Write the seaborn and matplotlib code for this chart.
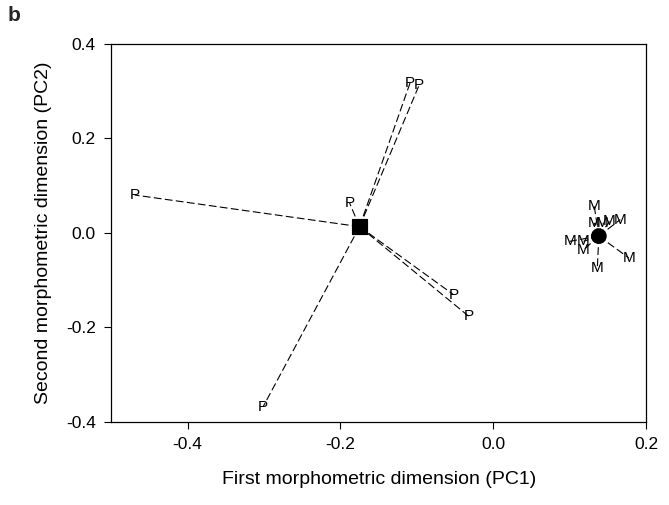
import matplotlib
matplotlib.use("Agg")
import matplotlib.pyplot as plt
import seaborn as sns
import pandas as pd

# P group (label points)
p_x = [-0.469, -0.301, -0.188, -0.109, -0.097, -0.052, -0.032]
p_y = [0.080, -0.368, 0.063, 0.317, 0.313, -0.131, -0.177]
# M group
m_x = [0.132, 0.132, 0.142, 0.152, 0.166, 0.100, 0.118, 0.118, 0.136, 0.177]
m_y = [0.056, 0.021, 0.021, 0.024, 0.028, -0.018, -0.018, -0.036, -0.075, -0.053]
# group centroids
cent_x = [-0.175, 0.138]
cent_y = [0.013, -0.007]
cent_group = ["P", "M"]

x_ticks = [-0.4, -0.2, 0.0, 0.2]
y_ticks = [-0.4, -0.2, 0.0, 0.2, 0.4]

sns.set_theme(style="white")
plt.rcParams['font.family'] = ['Liberation Sans', 'DejaVu Sans']

fig = plt.figure(figsize=(6.69, 5.05), dpi=100)
ax = fig.add_axes([0.166, 0.165, 0.800, 0.748])

groups = [("P", p_x, p_y, 0), ("M", m_x, m_y, 1)]
for lab, xs, ys, ci in groups:
    cx, cy = cent_x[ci], cent_y[ci]
    for x, y in zip(xs, ys):
        ax.plot([cx, x], [cy, y], color="black", lw=0.8, ls=(0, (7, 3)), zorder=1)
    for x, y in zip(xs, ys):
        ax.text(x, y, lab, fontsize=11, ha="center", va="center", color="black", zorder=3)

cdf = pd.DataFrame({"x": cent_x, "y": cent_y, "g": cent_group})
sns.scatterplot(data=cdf, x="x", y="y", style="g", markers={"P": "s", "M": "o"},
                s=110, color="black", edgecolor="black", legend=False, ax=ax, zorder=4)

ax.set_xlim(-0.5, 0.2)
ax.set_ylim(-0.4, 0.4)
ax.set_xticks(x_ticks)
ax.set_yticks(y_ticks)
ax.set_xticklabels([f"{v:.1f}" for v in x_ticks], fontsize=12.5)
ax.set_yticklabels([f"{v:.1f}" for v in y_ticks], fontsize=12.5)
ax.tick_params(axis="both", direction="out", length=5, width=0.8, colors="black",
               bottom=True, left=True, top=False, right=False, pad=6)
for s in ax.spines.values():
    s.set_color("black")
    s.set_linewidth(0.9)

ax.set_xlabel("First morphometric dimension (PC1)", fontsize=14, labelpad=14, color="black")
ax.set_ylabel("Second morphometric dimension (PC2)", fontsize=14, labelpad=10, color="black")

fig.text(0.012, 0.988, "b", fontsize=15, fontweight="bold", ha="left", va="top")

fig.savefig("out.png", dpi=100)
